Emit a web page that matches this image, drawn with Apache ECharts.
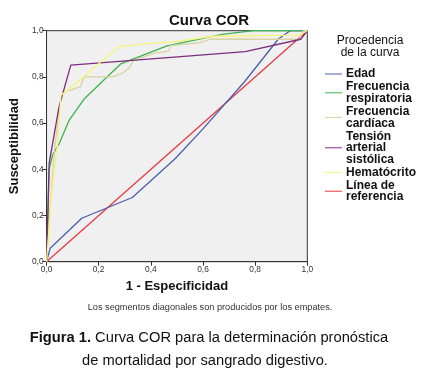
<!DOCTYPE html>
<html>
<head>
<meta charset="utf-8">
<script src="https://cdn.jsdelivr.net/npm/echarts@6/dist/echarts.min.js"></script>
<style>
  html, body { margin: 0; padding: 0; background: #fff; }
  #chart { width: 428px; height: 376px; }
</style>
</head>
<body>
<div id="chart"></div>
<script>
// ROC curve points: [1 - especificidad, susceptibilidad]
const edad = [[0, 0], [0.014, 0.058], [0.135, 0.188], [0.329, 0.278], [0.494, 0.447],
  [0.6, 0.575], [0.76, 0.78], [0.889, 0.964], [0.934, 1], [1, 1]];
const frecResp = [[0, 0], [0.005, 0.2], [0.01, 0.4], [0.023, 0.462], [0.048, 0.51],
  [0.087, 0.613], [0.144, 0.704], [0.284, 0.856], [0.462, 0.934], [0.673, 0.984],
  [0.794, 1], [1, 1]];
const frecCard = [[0, 0], [0.012, 0.2], [0.03, 0.48], [0.055, 0.715], [0.075, 0.74],
  [0.092, 0.743], [0.13, 0.758], [0.144, 0.8], [0.252, 0.8], [0.29, 0.815],
  [0.316, 0.837], [0.335, 0.873], [0.411, 0.902], [0.469, 0.912], [0.475, 0.935],
  [0.59, 0.948], [0.628, 0.963], [0.97, 0.963], [0.985, 1], [1, 1]];
const tension = [[0, 0], [0.005, 0.2], [0.01, 0.426], [0.048, 0.671], [0.093, 0.851],
  [0.762, 0.909], [0.975, 0.963], [1, 1]];
const hematocrito = [[0, 0], [0.01, 0.15], [0.02, 0.3], [0.035, 0.45], [0.042, 0.505],
  [0.055, 0.72], [0.137, 0.794], [0.208, 0.866], [0.278, 0.931], [0.399, 0.945],
  [0.488, 0.952], [0.64, 0.976], [0.97, 0.981], [1, 1]];
const referencia = [[0, 0], [1, 1]];

const seriesNames = ["Edad", "Frecuencia\nrespiratoria", "Frecuencia\ncardíaca",
  "Tensión\narterial\nsistólica", "Hematócrito", "Línea de\nreferencia"];
const seriesColors = ["#4a5fae", "#3cb54f", "#d8d2a2", "#7b2d80", "#f8f479", "#e8393f"];
const seriesData = [edad, frecResp, frecCard, tension, hematocrito, referencia];

const axisTicks = [0, 0.2, 0.4, 0.6, 0.8, 1.0];

const chart = echarts.init(document.getElementById("chart"));
const font = "Liberation Sans, Arial, sans-serif";

const axisCommon = {
  type: "value",
  min: 0,
  max: 1,
  interval: 0.2,
  axisLine: { show: true, lineStyle: { color: "#333", width: 1 } },
  axisTick: { show: true, length: 4, lineStyle: { color: "#333" } },
  splitLine: { show: false },
  axisLabel: {
    fontFamily: font,
    fontSize: 8.4,
    color: "#333",
    formatter: (v) => axisTicks.includes(+v.toFixed(1)) ? v.toFixed(1).replace(".", ",") : ""
  },
  nameLocation: "middle",
  nameTextStyle: { fontFamily: font, fontSize: 13, fontWeight: "bold", color: "#111" }
};

const option = {
  animation: false,
  backgroundColor: "#fff",
  grid: {
    left: 45.7, right: 120.7, top: 30.7, bottom: 114.3,
    show: true, backgroundColor: "#f0f0f0", borderColor: "#333", borderWidth: 1
  },
  xAxis: Object.assign({}, axisCommon, {
    name: "1 - Especificidad",
    nameGap: 18,
    axisLabel: Object.assign({}, axisCommon.axisLabel, { margin: 4 })
  }),
  yAxis: Object.assign({}, axisCommon, {
    name: "Susceptibilidad",
    nameGap: 21,
    nameRotate: 90,
    axisLabel: Object.assign({}, axisCommon.axisLabel, { margin: 3 })
  }),
  legend: {
    orient: "vertical",
    left: 320,
    top: 63,
    itemWidth: 17,
    itemHeight: 1,
    itemGap: 1,
    icon: "rect",
    data: seriesNames,
    textStyle: { fontFamily: font, fontSize: 12, fontWeight: "bold", color: "#111", lineHeight: 11.6, padding: [0, 0, 0, -1] }
  },
  graphic: [
    { type: "text", x: 209, y: 21,
      style: { text: "Curva COR", font: "bold 15px " + font, fill: "#111", textAlign: "center", textVerticalAlign: "middle" } },
    { type: "text", x: 370, y: 41,
      style: { text: "Procedencia", font: "12px " + font, fill: "#111", textAlign: "center", textVerticalAlign: "middle" } },
    { type: "text", x: 370, y: 53,
      style: { text: "de la curva", font: "12px " + font, fill: "#111", textAlign: "center", textVerticalAlign: "middle" } },
    { type: "text", x: 210, y: 307,
      style: { text: "Los segmentos diagonales son producidos por los empates.", font: "9.2px " + font, fill: "#333", textAlign: "center", textVerticalAlign: "middle" } },
    { type: "text", x: 209, y: 338,
      style: {
        text: "{b|Figura 1.} Curva COR para la determinación pronóstica",
        font: "14.7px " + font, fill: "#111", textAlign: "center", textVerticalAlign: "middle",
        rich: { b: { font: "bold 14.7px " + font, fill: "#111" } }
      } },
    { type: "text", x: 205, y: 361,
      style: { text: "de mortalidad por sangrado digestivo.", font: "14.7px " + font, fill: "#111", textAlign: "center", textVerticalAlign: "middle" } }
  ],
  series: seriesNames.map((name, i) => ({
    name,
    type: "line",
    data: seriesData[i],
    showSymbol: false,
    symbol: "none",
    color: seriesColors[i],
    lineStyle: { width: 1.3, color: seriesColors[i] },
    z: i === 5 ? 1 : 2
  }))
};

chart.setOption(option);
</script>
</body>
</html>
